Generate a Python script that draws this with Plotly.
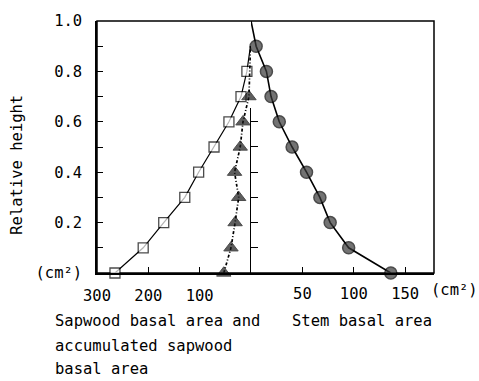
import plotly.graph_objects as go

# ---- data ----
stem_heights = [0.0, 0.1, 0.2, 0.3, 0.4, 0.5, 0.6, 0.7, 0.8, 0.9, 1.0]
stem_area = [136, 95, 77, 67, 54, 40, 27.5, 19.5, 15, 5, 0]          # cm2, right side

sap_heights = [0.0, 0.1, 0.2, 0.3, 0.4, 0.5, 0.6, 0.7, 0.8, 0.9]
sapwood_area = [265, 210, 170, 129, 102, 72, 43, 19.5, 8, 1]          # cm2, left side

acc_heights = [0.0, 0.1, 0.2, 0.3, 0.4, 0.5, 0.6, 0.7, 0.9]
accum_sapwood = [53, 39, 31, 24, 32, 21, 15.6, 4, 1]                  # cm2, left side

y_tickvals = [0.0, 0.1, 0.2, 0.3, 0.4, 0.5, 0.6, 0.7, 0.8, 0.9, 1.0]
y_ticktext = ["(cm²)", "", "0.2", "", "0.4", "", "0.6", "", "0.8", "", "1.0"]
left_tickvals = [300, 200, 100, 0]
left_ticktext = ["300", "200", "100", ""]
right_tickvals = [50, 100, 150]
right_ticktext = ["50", "100", "150"]

FONT = "DejaVu Sans Mono"
fs = 15.5

def sizes(n_visible, n_total, s):
    return [s] * n_visible + [0] * (n_total - n_visible)

fig = go.Figure()

fig.add_trace(go.Scatter(
    x=sapwood_area, y=sap_heights, xaxis="x", yaxis="y", mode="lines+markers",
    cliponaxis=False,
    line=dict(color="black", width=1.2),
    marker=dict(symbol="square", size=sizes(9, len(sapwood_area), 10), color="white",
                line=dict(color="black", width=1.3)),
    showlegend=False))

fig.add_trace(go.Scatter(
    x=accum_sapwood, y=acc_heights, xaxis="x", yaxis="y", mode="lines+markers",
    cliponaxis=False,
    line=dict(color="black", width=1.7, dash="3px,2px,1px,2px"),
    marker=dict(symbol="triangle-up", size=sizes(8, len(accum_sapwood), 12.5), color="#1a1a1a",
                line=dict(color="black", width=1)),
    showlegend=False))

fig.add_trace(go.Scatter(
    x=stem_area, y=stem_heights, xaxis="x2", yaxis="y", mode="lines+markers",
    cliponaxis=False,
    line=dict(color="black", width=1.6),
    marker=dict(symbol="circle", size=sizes(10, len(stem_area), 12), color="#383838",
                line=dict(color="black", width=1.5)),
    showlegend=False))

# invisible trace so that the centre axis subplot exists
fig.add_trace(go.Scatter(x=[None], y=[None], xaxis="x2", yaxis="y2", showlegend=False,
                         hoverinfo="skip"))

split = 154 / 337

def note(text, x, y, xanchor="left", angle=0):
    return dict(text=text, xref="paper", yref="paper", x=x, y=y, xanchor=xanchor,
                yanchor="middle", textangle=angle, showarrow=False,
                font=dict(family=FONT, size=fs, color="black"))

fig.update_layout(
    width=479, height=381,
    margin=dict(l=97, r=45, t=17, b=108),
    paper_bgcolor="white", plot_bgcolor="rgba(0,0,0,0)",
    font=dict(family=FONT, size=fs, color="black"),
    xaxis=dict(domain=[0, split], range=[300, 0], anchor="y",
               showline=True, linecolor="black", linewidth=1.5,
               ticks="inside", ticklen=6, tickcolor="black", tickwidth=1.3,
               tickvals=left_tickvals, ticktext=left_ticktext,
               showgrid=False, zeroline=False, ticklabelstandoff=8,
               tickfont=dict(family=FONT, size=fs)),
    xaxis2=dict(domain=[split, 1], range=[0, 178], anchor="y",
                showline=True, linecolor="black", linewidth=1.5,
                ticks="inside", ticklen=6, tickcolor="black", tickwidth=1.3,
                tickvals=right_tickvals, ticktext=right_ticktext,
                showgrid=False, zeroline=False, ticklabelstandoff=6,
                tickfont=dict(family=FONT, size=fs)),
    yaxis=dict(domain=[0, 1], range=[0, 1], anchor="x",
               showline=True, linecolor="black", linewidth=1.5,
               ticks="inside", ticklen=6, tickcolor="black", tickwidth=1.3,
               tickvals=y_tickvals, ticktext=y_ticktext,
               showgrid=False, zeroline=False, ticklabelstandoff=10,
               tickfont=dict(family=FONT, size=fs)),
    yaxis2=dict(domain=[0, 0.656], range=[0, 0.656], anchor="x2", side="left",
                showline=True, linecolor="black", linewidth=1.3,
                ticks="inside", ticklen=7, tickcolor="black", tickwidth=1.2,
                tickvals=[0.1, 0.2, 0.3, 0.4, 0.5, 0.6],
                showticklabels=False, showgrid=False, zeroline=False),
    shapes=[dict(type="rect", xref="paper", yref="paper", x0=0, x1=1, y0=0, y1=1,
                 line=dict(color="black", width=1.5), layer="below")],
    annotations=[
        note("Relative height", -0.237, 0.43, xanchor="center", angle=-90),
        note("(cm²)", 1.062, -0.066, xanchor="center"),
        note("Sapwood basal area and", -0.131, -0.191),
        note("accumulated sapwood", -0.131, -0.289),
        note("basal area", -0.131, -0.379),
        note("Stem basal area", 0.5727, -0.191),
    ],
)

fig.write_html("out.html")
